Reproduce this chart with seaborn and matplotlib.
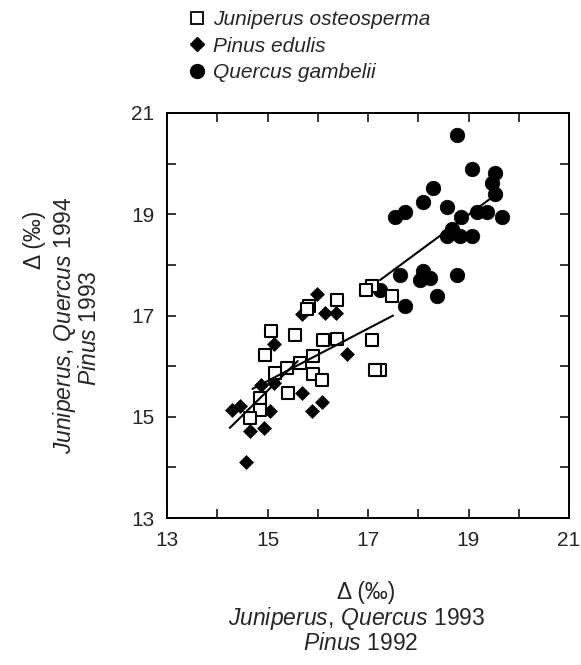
import matplotlib
matplotlib.use("Agg")
import matplotlib.pyplot as plt
import seaborn as sns
import numpy as np
import pandas as pd
from matplotlib.ticker import MultipleLocator
from matplotlib.lines import Line2D

# ---- data ----
species = ["Juniperus osteosperma", "Pinus edulis", "Quercus gambelii"]

jun_x = [17.07, 16.97, 17.47, 16.38, 15.83, 15.78, 15.06, 15.55, 16.11, 16.38, 17.07, 14.95,
         15.91, 15.65, 15.38, 15.15, 15.91, 16.08, 15.41, 14.85, 14.85, 14.65, 17.24, 17.14]
jun_y = [17.58, 17.50, 17.39, 17.30, 17.18, 17.13, 16.70, 16.62, 16.52, 16.53, 16.52, 16.22,
         16.20, 16.06, 15.96, 15.86, 15.85, 15.73, 15.47, 15.38, 15.14, 14.98, 15.93, 15.93]

pin_x = [15.98, 15.68, 16.14, 16.36, 15.13, 16.58, 14.87, 15.12, 15.69, 14.30, 14.45, 15.05,
         15.89, 16.09, 14.65, 14.93, 14.57]
pin_y = [17.43, 17.02, 17.04, 17.04, 16.44, 16.23, 15.62, 15.67, 15.47, 15.13, 15.21, 15.11,
         15.11, 15.29, 14.72, 14.78, 14.10]

que_x = [18.77, 19.06, 19.53, 19.46, 19.53, 18.29, 18.10, 17.74, 17.54, 18.58, 18.86, 19.16,
         19.36, 19.66, 18.57, 18.83, 19.06, 18.68, 17.64, 18.10, 18.03, 18.23, 18.77, 18.37,
         17.74, 17.24]
que_y = [20.57, 19.89, 19.82, 19.61, 19.40, 19.51, 19.25, 19.04, 18.94, 19.14, 18.94, 19.05,
         19.04, 18.94, 18.57, 18.57, 18.57, 18.70, 17.80, 17.87, 17.71, 17.74, 17.80, 17.38,
         17.19, 17.51]

# regression line end points
jun_fit_x = [14.70, 17.50]
jun_fit_y = [15.55, 17.00]
pin_fit_x = [14.25, 15.60]
pin_fit_y = [14.78, 16.10]
que_fit_x = [17.24, 19.45]
que_fit_y = [17.70, 19.32]

tick_labels = ["13", "15", "17", "19", "21"]

# ---- style ----
sns.set_style("ticks")
plt.rcParams["font.family"] = ["Liberation Sans", "DejaVu Sans"]
plt.rcParams["mathtext.fontset"] = "custom"
plt.rcParams["mathtext.rm"] = "Liberation Sans"
plt.rcParams["mathtext.it"] = "Liberation Sans:italic"

fig = plt.figure(figsize=(5.81, 6.65), dpi=100)
ax = fig.add_axes([167/581, 1-518/665, (569-167)/581, (518-113)/665])

df_p = pd.DataFrame({"x": pin_x, "y": pin_y})
df_j = pd.DataFrame({"x": jun_x, "y": jun_y})
df_q = pd.DataFrame({"x": que_x, "y": que_y})

sns.scatterplot(data=df_p, x="x", y="y", ax=ax, marker="D", s=50,
                color="black", edgecolor="black", linewidth=0.5, zorder=3)
sns.scatterplot(data=df_j, x="x", y="y", ax=ax, marker="s", s=78,
                facecolor="white", edgecolor="black", linewidth=1.5, zorder=4)
sns.scatterplot(data=df_q, x="x", y="y", ax=ax, marker="o", s=110,
                color="black", edgecolor="black", linewidth=0.5, zorder=3)

for fx, fy in [(jun_fit_x, jun_fit_y), (pin_fit_x, pin_fit_y), (que_fit_x, que_fit_y)]:
    sns.lineplot(x=fx, y=fy, ax=ax, color="black", linewidth=1.5, zorder=5,
                 estimator=None, sort=False)

ax.set_xlim(13, 21)
ax.set_ylim(13, 21)
ax.set_xticks([13, 15, 17, 19, 21])
ax.set_yticks([13, 15, 17, 19, 21])
ax.set_xticklabels(tick_labels)
ax.set_yticklabels(tick_labels)
ax.xaxis.set_minor_locator(MultipleLocator(1))
ax.yaxis.set_minor_locator(MultipleLocator(1))
ax.tick_params(which="both", direction="in", top=True, right=True,
               length=6.5, width=1.1, color="black")
ax.tick_params(which="major", labelsize=15, pad=9)
ax.set_xlabel("")
ax.set_ylabel("")
for sp in ax.spines.values():
    sp.set_linewidth(1.4)
    sp.set_color("black")
ax.set_xlim(13, 21)
ax.set_ylim(13, 21)

# ---- axis titles ----
fs = 16.5
fig.text(366/581, 1-592/665, "\u0394 (\u2030)", ha="center", va="center", fontsize=fs)
fig.text(357/581, 1-619/665, r"$\mathit{Juniperus,\,Quercus}\ \mathrm{1993}$",
         ha="center", va="center", fontsize=fs)
fig.text(361/581, 1-644/665, r"$\mathit{Pinus}\ \mathrm{1992}$",
         ha="center", va="center", fontsize=fs)

fig.text(35/581, 1-240/665, "\u0394 (\u2030)", ha="center", va="center", fontsize=fs, rotation=90)
fig.text(65/581, 1-325/665, r"$\mathit{Juniperus,\,Quercus}\ \mathrm{1994}$",
         ha="center", va="center", fontsize=fs, rotation=90)
fig.text(90/581, 1-328/665, r"$\mathit{Pinus}\ \mathrm{1993}$",
         ha="center", va="center", fontsize=fs, rotation=90)

# ---- legend ----
handles = [
    Line2D([], [], linestyle="none", marker="s", markersize=8.5, markerfacecolor="white",
           markeredgecolor="black", markeredgewidth=1.3),
    Line2D([], [], linestyle="none", marker="D", markersize=7, color="black"),
    Line2D([], [], linestyle="none", marker="o", markersize=10, color="black"),
]
fig.legend(handles, species, loc="upper left", bbox_to_anchor=(0.31, 0.997),
           frameon=False, prop={"size": 15, "style": "italic"},
           handlelength=0.8, handletextpad=0.4, labelspacing=0.35, borderaxespad=0)

fig.savefig("out.png", dpi=100)
